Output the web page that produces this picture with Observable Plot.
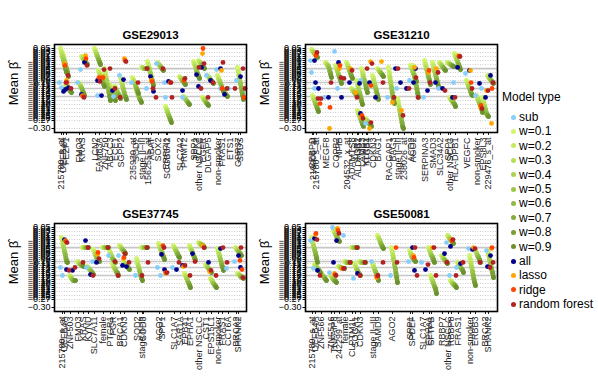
<!DOCTYPE html>
<html><head><meta charset="utf-8">
<script src="https://cdn.jsdelivr.net/npm/d3@7"></script>
<script src="https://cdn.jsdelivr.net/npm/@observablehq/plot@0.6"></script>
<style>
body{margin:0;background:#fff;font-family:"Liberation Sans",Arial,sans-serif;}
#wrap{position:relative;width:598px;height:382px;overflow:hidden;background:#fff;}
.panel{position:absolute;}
.lg{position:absolute;font-size:12px;line-height:14px;color:#000;white-space:nowrap;}
.dot{position:absolute;width:5px;height:5px;border-radius:50%;}
</style></head><body><div id="wrap"></div>
<script>
const yTicks = [0.05,0.0325,0.015,-0.0025,-0.02,-0.0375,-0.055,-0.0725,-0.09,-0.1075,-0.125,-0.1425,-0.16,-0.1775,-0.195,-0.2125,-0.23,-0.2475,-0.265,-0.30];
const yTickLabels = [0.05,0.04125,0.0325,0.02375,0.015,0.00625,-0.0025,-0.01125,-0.02,-0.02875,-0.0375,-0.04625,-0.055,-0.06375,-0.0725,-0.08125,-0.09,-0.09875,-0.1075,-0.11625,-0.125,-0.13375,-0.1425,-0.15125,-0.16,-0.16875,-0.1775,-0.18625,-0.195,-0.20375,-0.2125,-0.22125,-0.23,-0.23875,-0.2475,-0.25625,-0.265,-0.30];
const refLines = [-0.038,-0.099,-0.125,-0.160];
const modelTypes = ["sub","w=0.1","w=0.2","w=0.3","w=0.4","w=0.5","w=0.6","w=0.7","w=0.8","w=0.9","all","lasso","ridge","random forest"];
const modelColors = ["#87cefa","#d2f56e","#c4ea62","#b6df58","#a8d350","#9bc749","#8fba42","#83ad3b","#779f34","#6b922e","#00008b","#ffa500","#ff4500","#b22222"];
const panelTitles = ["GSE29013","GSE31210","GSE37745","GSE50081"];

// [gene, position, sub, all, lasso, ridge, random forest, [w=0.1 ... w=0.9]]
const gse29013 = [
["215780_s_at",7,-0.099,-0.138,-0.016,-0.024,-0.099,[0.050,0.037,0.024,0.011,-0.003,-0.016,-0.029,-0.042,-0.055]],
["DEFB4A",9,-0.121,-0.129,-0.090,-0.099,-0.068,[0.033,0.019,0.006,-0.007,-0.020,-0.033,-0.046,-0.059,-0.073]],
["FEZF1",12,null,-0.121,null,null,-0.125,[-0.108,-0.112,-0.116,-0.121,-0.125,-0.129,-0.134,-0.138,-0.143]],
["FMO3",25,-0.099,-0.151,-0.156,-0.160,-0.164,[-0.099,-0.103,-0.108,-0.116,-0.121,-0.129,-0.138,-0.147,-0.156]],
["KRAS",28,-0.042,-0.011,0.019,0.006,-0.024,[0.015,0.011,0.006,0.002,-0.003,-0.007,-0.011,-0.016,-0.020]],
["LCN2",41,null,-0.090,null,-0.077,-0.094,[0.050,0.041,0.033,0.024,0.015,0.006,-0.003,-0.011,-0.020]],
["FAM83A",45,-0.156,-0.156,-0.073,-0.077,-0.042,[-0.046,-0.055,-0.064,-0.073,-0.081,-0.090,-0.099,-0.108,-0.116]],
["ZNF750",51,null,null,null,null,-0.038,[-0.038,-0.055,-0.073,-0.090,-0.108,-0.125,-0.143,-0.160,-0.178]],
["ABCC3",56,null,-0.134,null,null,-0.125,[-0.108,-0.116,-0.125,-0.134,-0.143,-0.151,-0.160,-0.169,-0.178]],
["ECE1",61,-0.160,null,null,null,-0.164,[-0.116,-0.121,-0.129,-0.134,-0.143,-0.147,-0.156,-0.160,-0.169]],
["SGPP2",67,-0.068,-0.086,0.006,-0.003,-0.007,[-0.077,-0.090,-0.103,-0.116,-0.129,-0.143,-0.156,-0.164,-0.173]],
["235930_at",79,-0.099,null,null,null,-0.099,[-0.077,-0.086,-0.094,-0.103,-0.112,-0.121,-0.129,-0.138,-0.147]],
["SOD2",82,null,null,null,null,null,[-0.121,-0.129,-0.138,-0.147,-0.156,-0.164,-0.173,-0.178,-0.186]],
["stage II–III",88,null,null,null,null,-0.038,[-0.033,-0.033,-0.035,-0.038,-0.038,-0.038,-0.038,-0.038,-0.038]],
["1562555_at",94,-0.125,-0.073,-0.090,-0.094,-0.125,[-0.007,-0.020,-0.033,-0.046,-0.059,-0.073,-0.086,-0.099,-0.112]],
["ABAT",97,null,-0.138,null,null,-0.164,null],
["SOX2",104,-0.016,null,null,null,-0.038,[-0.011,-0.016,-0.020,-0.024,-0.029,-0.033,-0.038,-0.042,-0.046]],
["ERRFI1",112,-0.099,-0.094,null,-0.099,-0.099,[-0.204,-0.213,-0.221,-0.230,-0.239,-0.248,-0.256,-0.265,-0.274]],
["SCGB3A2",113,-0.164,null,null,null,-0.164,null],
["SLC7A2",126,null,-0.134,null,-0.090,-0.081,[-0.073,-0.077,-0.081,-0.086,-0.090,-0.094,-0.099,-0.103,-0.108]],
["PRMT2",130,-0.164,null,null,null,null,[-0.160,-0.164,-0.169,-0.173,-0.178,-0.182,-0.186,-0.191,-0.195]],
["SPP1",140,null,-0.064,null,null,-0.033,[-0.007,-0.016,-0.024,-0.033,-0.046,-0.055,-0.064,-0.073,-0.081]],
["TPX2",142,null,-0.116,null,null,-0.125,null],
["other NSCLC",145,null,-0.033,0.028,0.050,-0.016,[-0.003,-0.007,-0.011,-0.016,-0.020,-0.024,-0.029,-0.033,-0.038]],
["EGFR",149,null,null,null,null,-0.164,[-0.164,-0.169,-0.173,-0.178,-0.182,-0.186,-0.191,-0.195,-0.199]],
["DLGAP5",154,-0.068,-0.090,null,null,-0.099,[-0.068,-0.073,-0.077,-0.081,-0.086,-0.090,-0.094,-0.099,-0.103]],
["non-smoker",164,-0.042,-0.038,-0.046,-0.125,-0.011,[-0.068,-0.077,-0.086,-0.094,-0.103,-0.112,-0.121,-0.129,-0.138]],
["FRAS1",168,-0.125,-0.151,null,null,-0.125,[-0.125,-0.129,-0.134,-0.138,-0.143,-0.147,-0.151,-0.156,-0.160]],
["ETS1",176,-0.125,null,null,null,-0.125,null],
["GPR37",184,-0.090,-0.073,null,null,-0.038,[-0.033,-0.051,-0.068,-0.086,-0.103,-0.121,-0.138,-0.156,-0.173]],
["SBDS",186,null,null,null,-0.164,-0.125,null]
];

const gse31210 = [
["CEBPD",7,-0.003,-0.003,0.028,0.019,0.033,[0.046,0.041,0.037,0.033,0.028,0.024,0.019,0.015,0.011]],
["210006_at",8,-0.055,-0.099,null,null,-0.169,[-0.156,-0.164,-0.173,-0.182,-0.191,-0.199,-0.208,-0.217,-0.226]],
["215780_s_at",11,-0.125,-0.125,null,-0.191,-0.169,null],
["MEGF8",21,-0.164,-0.164,-0.300,-0.208,-0.099,[-0.011,-0.016,-0.020,-0.024,-0.029,-0.038,-0.051,-0.064,-0.077]],
["COPB2",31,0.037,-0.011,-0.038,-0.024,-0.077,[-0.024,-0.033,-0.042,-0.051,-0.064,-0.073,-0.081,-0.090,-0.103]],
["NFIB",34,-0.125,-0.164,null,null,-0.081,null],
["204532_x_at",42,null,-0.099,-0.038,null,-0.046,[-0.011,-0.020,-0.029,-0.038,-0.046,-0.055,-0.064,-0.073,-0.081]],
["ADAMTS8",47,null,null,-0.143,null,-0.164,[-0.125,-0.129,-0.134,-0.138,-0.143,-0.147,-0.151,-0.156,-0.160]],
["AGR2",52,null,-0.103,null,null,null,[-0.090,-0.103,-0.116,-0.129,-0.143,-0.156,-0.169,-0.182,-0.195]],
["ALDH3B1",53,null,-0.234,-0.252,-0.243,-0.256,[-0.221,-0.230,-0.239,-0.248,-0.256,-0.265,-0.274,-0.283,-0.291]],
["LAMB3",57,-0.090,null,null,null,-0.038,[-0.038,-0.051,-0.064,-0.077,-0.090,-0.103,-0.116,-0.129,-0.143]],
["KLRB1",61,null,null,-0.300,null,-0.274,[-0.256,-0.261,-0.265,-0.269,-0.274,-0.278,-0.283,-0.287,-0.291]],
["ITGB4",62,-0.278,-0.099,-0.007,-0.112,-0.016,null],
["CDKN3",68,null,-0.164,null,null,null,[-0.068,-0.081,-0.094,-0.108,-0.121,-0.134,-0.147,-0.160,-0.173]],
["BAG1",73,null,null,-0.007,null,-0.099,[-0.038,-0.042,-0.046,-0.051,-0.055,-0.059,-0.064,-0.068,-0.073]],
["RACGAP1",84,-0.164,null,-0.186,null,-0.164,[-0.033,-0.055,-0.077,-0.099,-0.121,-0.143,-0.164,-0.178,-0.191]],
["BAG3",88,null,-0.038,null,null,-0.038,null],
["stage II–III",93,-0.125,-0.099,-0.221,null,-0.243,[-0.169,-0.186,-0.204,-0.221,-0.239,-0.256,-0.274,-0.291,-0.300]],
["238026_at",99,null,-0.125,null,null,-0.125,null],
["ACO2",106,-0.090,-0.099,-0.033,null,-0.077,[-0.024,-0.033,-0.042,-0.051,-0.059,-0.068,-0.077,-0.086,-0.094]],
["AGO2",108,null,-0.038,null,null,-0.164,[-0.024,-0.042,-0.059,-0.077,-0.094,-0.112,-0.129,-0.147,-0.164]],
["SERPINA3",120,-0.164,-0.134,-0.055,-0.046,-0.099,[-0.003,-0.016,-0.029,-0.042,-0.055,-0.068,-0.081,-0.094,-0.108]],
["SMAD3",128,null,-0.099,-0.038,null,-0.055,[-0.011,-0.024,-0.038,-0.051,-0.064,-0.077,-0.090,-0.103,-0.116]],
["SLC34A2",135,-0.125,-0.125,null,null,-0.134,[-0.011,-0.016,-0.020,-0.024,-0.029,-0.033,-0.038,-0.042,-0.046]],
["SPP1",143,null,null,null,null,null,[-0.011,-0.013,-0.016,-0.018,-0.020,-0.022,-0.024,-0.027,-0.029]],
["other NSCLC",145,null,-0.164,null,null,-0.164,[-0.164,-0.169,-0.173,-0.178,-0.182,-0.186,-0.191,-0.195,-0.204]],
["HLA-DPB1",150,-0.099,-0.033,0.019,0.015,0.015,[0.028,0.019,0.011,0.002,-0.007,-0.016,-0.024,-0.033,-0.042]],
["VEGFC",162,-0.059,-0.046,-0.046,-0.099,-0.125,[-0.090,-0.099,-0.108,-0.116,-0.125,-0.134,-0.143,-0.151,-0.156]],
["non-smoker",172,-0.156,-0.103,-0.208,-0.199,-0.213,[-0.156,-0.164,-0.173,-0.182,-0.191,-0.199,-0.208,-0.217,-0.230]],
["EPS8L3",178,-0.125,-0.164,-0.134,null,-0.134,[-0.164,-0.178,-0.191,-0.204,-0.217,-0.230,-0.239,-0.243,-0.248]],
["229476_s_at",183,null,-0.068,-0.278,-0.125,-0.099,[-0.068,-0.073,-0.077,-0.081,-0.086,-0.090,-0.094,-0.099,-0.103]]
];

const gse37745 = [
["215780_s_at",8,-0.125,-0.003,-0.007,-0.011,-0.016,[0.006,-0.007,-0.024,-0.038,-0.055,-0.068,-0.086,-0.099,-0.103]],
["DEFB4A",10,-0.160,-0.134,null,null,-0.138,null],
["ZNF503",16,null,-0.138,null,null,-0.125,[-0.160,-0.164,-0.169,-0.173,-0.178,-0.182,-0.182,-0.182,-0.182]],
["FMO3",24,null,null,null,null,-0.103,[-0.099,-0.103,-0.108,-0.108,-0.112,-0.112,-0.116,-0.116,-0.121]],
["KRAS",29,null,-0.007,null,null,-0.038,[-0.038,-0.038,-0.038,-0.038,-0.038,-0.038,-0.038,-0.038,-0.038]],
["KYNU",34,-0.125,-0.156,null,null,-0.160,[-0.121,-0.125,-0.129,-0.134,-0.138,-0.143,-0.147,-0.151,-0.156]],
["SLC7A11",40,-0.099,-0.103,-0.068,-0.059,-0.086,[-0.046,-0.055,-0.064,-0.073,-0.081,-0.086,-0.090,-0.094,-0.099]],
["female",49,null,null,null,null,-0.038,[-0.038,-0.038,-0.038,-0.038,-0.038,-0.038,-0.038,-0.038,-0.038]],
["PTGR1",56,-0.073,null,null,null,-0.099,[-0.051,-0.059,-0.068,-0.077,-0.086,-0.090,-0.094,-0.099,-0.103]],
["FGR",59,null,null,null,null,-0.160,[-0.108,-0.116,-0.125,-0.129,-0.134,-0.143,-0.147,-0.151,-0.160]],
["BRCA1",66,-0.073,-0.116,-0.086,-0.081,-0.064,[-0.029,-0.033,-0.038,-0.042,-0.046,-0.051,-0.055,-0.059,-0.064]],
["CDKN3",70,null,-0.121,null,null,-0.103,[-0.099,-0.103,-0.108,-0.112,-0.116,-0.121,-0.125,-0.129,-0.134]],
["SOD2",83,-0.160,null,null,null,-0.160,[-0.086,-0.099,-0.112,-0.125,-0.138,-0.151,-0.164,-0.173,-0.182]],
["stage II–III",88,null,null,null,null,-0.038,[-0.038,-0.038,-0.038,-0.038,-0.038,-0.038,-0.038,-0.038,-0.038]],
["SOD3",89,null,null,null,null,-0.103,null],
["AGO2",105,-0.125,-0.068,null,-0.029,-0.038,[-0.020,-0.029,-0.038,-0.046,-0.055,-0.064,-0.073,-0.081,-0.090]],
["SPP1",108,-0.160,-0.134,-0.151,-0.147,-0.147,null],
["SLC1A7",120,-0.125,-0.134,null,null,-0.103,[-0.029,-0.038,-0.042,-0.051,-0.055,-0.064,-0.068,-0.077,-0.081]],
["SAR1A",126,null,-0.116,-0.121,null,-0.116,null],
["EPB41",131,null,null,null,null,-0.160,[-0.151,-0.160,-0.164,-0.173,-0.182,-0.191,-0.195,-0.204,-0.213]],
["EPHA1",136,null,-0.064,null,null,-0.099,[-0.029,-0.038,-0.046,-0.051,-0.059,-0.068,-0.077,-0.086,-0.094]],
["other NSCLC",145,null,null,-0.029,null,-0.038,[-0.016,-0.020,-0.020,-0.024,-0.024,-0.029,-0.029,-0.033,-0.038]],
["CST1",152,null,-0.103,-0.143,null,-0.138,[-0.112,-0.116,-0.121,-0.125,-0.129,-0.134,-0.138,-0.143,-0.147]],
["EPS15L1",157,null,null,null,null,-0.160,[-0.173,-0.178,-0.182,-0.191,-0.195,-0.199,-0.204,-0.208,-0.213]],
["non-smoker",164,null,-0.042,null,null,-0.038,[-0.042,-0.055,-0.064,-0.077,-0.090,-0.103,-0.116,-0.125,-0.138]],
["FRAS1",168,null,null,null,null,-0.103,null],
["CCT6A",174,-0.129,null,null,null,null,null],
["BRCA2",182,-0.099,-0.073,null,-0.094,-0.038,[-0.038,-0.042,-0.046,-0.051,-0.055,-0.059,-0.064,-0.068,-0.073]],
["SHANK2",184,null,-0.125,null,-0.134,-0.169,[-0.151,-0.156,-0.156,-0.160,-0.164,-0.164,-0.169,-0.169,-0.173]]
];

const gse50081 = [
["215780_s_at",7,-0.007,0.002,0.019,0.024,-0.003,[0.006,-0.007,-0.020,-0.033,-0.046,-0.059,-0.073,-0.086,-0.103]],
["DEFB4A",10,-0.129,-0.138,null,null,-0.160,[-0.112,-0.116,-0.121,-0.125,-0.129,-0.134,-0.138,-0.143,-0.147]],
["ZNF566",16,null,null,null,null,null,[-0.147,-0.151,-0.156,-0.160,-0.164,-0.169,-0.173,-0.178,-0.182]],
["ZNF516",26,-0.147,-0.103,-0.151,-0.156,-0.160,[-0.160,-0.164,-0.169,-0.173,-0.178,-0.182,-0.182,-0.186,-0.191]],
["TNFAIP8",29,0.050,-0.007,0.046,0.037,0.024,[0.041,0.033,0.024,0.019,0.011,0.006,-0.003,-0.007,-0.011]],
["242299_at",34,null,null,-0.129,-0.129,-0.129,[-0.121,-0.121,-0.125,-0.125,-0.125,-0.129,-0.129,-0.129,-0.129]],
["female",40,0.015,null,null,null,-0.103,[-0.099,-0.099,-0.103,-0.103,-0.103,-0.103,-0.103,-0.103,-0.103]],
["CLPTM1L",47,null,null,null,null,-0.038,[-0.038,-0.038,-0.038,-0.038,-0.038,-0.038,-0.038,-0.038,-0.038]],
["SOGA1",50,-0.173,-0.151,null,null,-0.160,[-0.108,-0.116,-0.125,-0.134,-0.138,-0.147,-0.151,-0.156,-0.160]],
["CDKN3",55,null,null,null,null,-0.103,[-0.099,-0.099,-0.103,-0.103,-0.103,-0.103,-0.103,-0.103,-0.103]],
["stage II–III",68,-0.099,null,-0.169,-0.164,-0.160,[-0.108,-0.116,-0.125,-0.134,-0.143,-0.151,-0.160,-0.169,-0.182]],
["SAMD9",73,null,null,null,null,-0.103,[0.015,0.006,0.002,-0.007,-0.016,-0.024,-0.029,-0.038,-0.042]],
["AGO2",87,-0.160,null,null,-0.038,-0.103,[-0.038,-0.055,-0.073,-0.090,-0.112,-0.129,-0.151,-0.169,-0.191]],
["SPP1",105,-0.099,-0.038,-0.073,-0.081,-0.038,[-0.051,-0.059,-0.068,-0.077,-0.081,-0.086,-0.090,-0.094,-0.099]],
["SPDEF",107,null,-0.138,null,null,-0.160,null],
["SLC1A7",118,-0.103,-0.134,null,null,-0.112,null],
["EPHA1",124,null,null,-0.038,null,-0.038,[-0.038,-0.046,-0.055,-0.064,-0.073,-0.077,-0.086,-0.094,-0.103]],
["SFTPB",126,null,null,null,null,-0.160,[-0.160,-0.169,-0.178,-0.186,-0.195,-0.204,-0.213,-0.221,-0.239]],
["RBBP7",137,null,-0.064,null,null,-0.103,[-0.073,-0.077,-0.081,-0.086,-0.090,-0.094,-0.099,-0.103,-0.108]],
["other NSCLC",143,-0.016,-0.033,-0.003,-0.007,-0.003,[0.015,0.011,0.006,0.002,-0.003,-0.007,-0.011,-0.016,-0.020]],
["RBBP8",146,-0.160,null,null,null,-0.160,[-0.182,-0.186,-0.191,-0.195,-0.199,-0.199,-0.204,-0.208,-0.213]],
["FRAS1",153,-0.125,-0.108,null,null,-0.103,[-0.103,-0.108,-0.112,-0.116,-0.125,-0.129,-0.134,-0.138,-0.147]],
["non-smoker",165,-0.042,-0.046,-0.038,null,-0.042,[-0.073,-0.090,-0.108,-0.125,-0.143,-0.160,-0.178,-0.191,-0.204]],
["ERBB3",170,null,null,null,null,-0.103,[-0.042,-0.051,-0.055,-0.064,-0.073,-0.077,-0.086,-0.094,-0.103]],
["BRCA2",180,null,-0.121,null,null,-0.125,null],
["SHANK2",183,-0.051,-0.073,-0.042,-0.038,-0.103,[-0.051,-0.064,-0.077,-0.094,-0.108,-0.125,-0.138,-0.151,-0.169]]
];

// layout (pixel offsets within a gene cluster, by model type index)
const W_OFF = [-1,-0.25,0.5,1.25,2,2.75,3.5,4.25,5];
const OTHER = [[2,0,-2],[3,10,2],[4,11,3],[5,12,3.5],[6,13,4.5]];
const drawRank = t => t === 0 ? 9.5 : t;

function makePanel(title, rows) {
  const pts = [], segs = [];
  rows.forEach(r => {
    const pos = r[1], w = r[7];
    if (w) {
      w.forEach((v, i) => {
        pts.push({x: pos + W_OFF[i], y: v, t: i + 1});
        if (i < w.length - 1) segs.push({x1: pos + W_OFF[i], y1: v, x2: pos + W_OFF[i + 1], y2: w[i + 1], t: i + 1});
      });
    }
    OTHER.forEach(([col, t, off]) => { if (r[col] != null) pts.push({x: pos + off, y: r[col], t}); });
  });
  pts.sort((a, b) => drawRank(a.t) - drawRank(b.t));
  const positions = rows.map(r => r[1]);
  return Plot.plot({
    width: 250, height: 174, marginLeft: 54, marginRight: 4, marginTop: 16, marginBottom: 70,
    x: {domain: [0, 192], axis: null},
    y: {domain: [-0.30, 0.05], insetTop: 4, insetBottom: 4, axis: null},
    color: {type: "identity"},
    style: {background: "transparent", fontFamily: "'Liberation Sans', Arial, sans-serif", overflow: "visible"},
    marks: [
      Plot.ruleY(yTicks, {stroke: "#bbbbbb", strokeDasharray: "1,1.5", strokeWidth: 0.7}),
      Plot.ruleY(refLines, {stroke: "#c6c6c6", strokeWidth: 1.6}),
      Plot.link(segs, {x1: "x1", y1: "y1", x2: "x2", y2: "y2", stroke: d => modelColors[d.t], strokeWidth: 4.6, strokeLinecap: "round"}),
      Plot.dot(pts, {x: "x", y: "y", r: 2.4, fill: d => modelColors[d.t], stroke: "none"}),
      Plot.axisY(yTickLabels, {tickFormat: d3.format(".2f"), fontSize: 9, tickSize: 2.5, tickPadding: 1.5, label: null, color: "#000"}),
      Plot.axisX(positions, {tickFormat: () => "", tickSize: 3, label: null, color: "#222"}),
      Plot.text(rows, {x: r => r[1], text: r => r[0], frameAnchor: "bottom", rotate: -90, textAnchor: "end", lineAnchor: "middle", dy: 5, fontSize: 9, fill: "#222"}),
      Plot.frame({stroke: "#000", strokeWidth: 1.6}),
      Plot.text([title], {frameAnchor: "top", lineAnchor: "middle", dy: -9, fontWeight: "bold", fontSize: 11.5}),
      Plot.text(["Mean \u03B2\u0302"], {frameAnchor: "left", textAnchor: "middle", lineAnchor: "middle", rotate: -90, dx: -41, dy: -5, fontSize: 13})
    ]
  });
}

const wrap = document.getElementById("wrap");
const datasets = [gse29013, gse31210, gse37745, gse50081];
const places = [[0, 28], [251, 28], [0, 207], [251, 207]];
datasets.forEach((rows, i) => {
  const svg = makePanel(panelTitles[i], rows);
  svg.classList.add("panel");
  svg.style.left = places[i][0] + "px";
  svg.style.top = places[i][1] + "px";
  wrap.appendChild(svg);
});

// legend
const lt = document.createElement("div");
lt.className = "lg"; lt.style.left = "502px"; lt.style.top = "90px"; lt.textContent = "Model type";
wrap.appendChild(lt);
modelTypes.forEach((m, i) => {
  const cy = 117 + 14.4 * i;
  const d = document.createElement("div");
  d.className = "dot"; d.style.left = "511px"; d.style.top = (cy - 2.5) + "px"; d.style.background = modelColors[i];
  wrap.appendChild(d);
  const t = document.createElement("div");
  t.className = "lg"; t.style.left = "519px"; t.style.top = (cy - 7) + "px"; t.textContent = m;
  wrap.appendChild(t);
});
</script></body></html>
